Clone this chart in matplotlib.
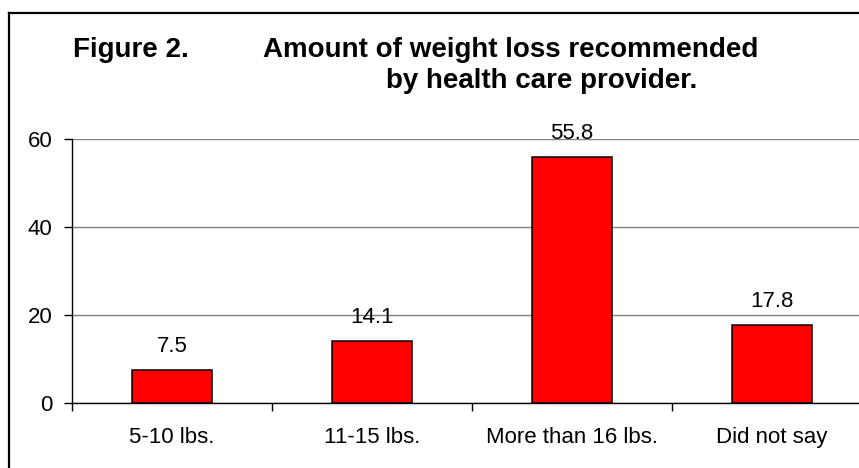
import matplotlib
matplotlib.use("Agg")
import matplotlib.pyplot as plt
from matplotlib.lines import Line2D

categories = ["5-10 lbs.", "11-15 lbs.", "More than 16 lbs.", "Did not say"]
values = [7.5, 14.1, 55.8, 17.8]
yticks = [0, 20, 40, 60]

W, H = 859, 468
plt.rcParams['font.family'] = ['Liberation Sans', 'DejaVu Sans']
fig = plt.figure(figsize=(W / 100, H / 100), dpi=100)

def fx(px):
    return px / W

def fy(py):
    return 1 - py / H

# axes: left x=72, right x=872, top y=139, bottom y=403
ax = fig.add_axes([fx(72), fy(403), fx(872) - fx(72), fy(139) - fy(403)])
x = list(range(len(categories)))
ax.bar(x, values, width=0.4, color="#FF0000", edgecolor="black", linewidth=1.1, zorder=3)
ax.set_xlim(-0.5, len(categories) - 0.5)
ax.set_ylim(0, 60)
ax.set_yticks(yticks)
ax.set_yticklabels([str(t) for t in yticks], fontsize=16)
ax.yaxis.grid(True, color="#808080", linewidth=1.0, zorder=0)
ax.set_axisbelow(True)

# major ticks at category boundaries, labels at centers
ax.set_xticks([i - 0.5 for i in range(len(categories) + 1)])
ax.set_xticklabels([])
ax.set_xticks(x, minor=True)
ax.set_xticklabels(categories, minor=True, fontsize=16)
ax.tick_params(axis="x", which="major", direction="out", length=6, width=1, color="black")
ax.tick_params(axis="x", which="minor", length=0, pad=17)
ax.tick_params(axis="y", direction="out", length=6, width=1, pad=8)

for s in ["top", "right"]:
    ax.spines[s].set_visible(False)
for s in ["left", "bottom"]:
    ax.spines[s].set_color("black")
    ax.spines[s].set_linewidth(1.0)
    ax.spines[s].set_zorder(4)

for xi, v in zip(x, values):
    ax.annotate(f"{v}", (xi, v), xytext=(0, 13), textcoords="offset points",
                ha="center", va="baseline", fontsize=16)

# title
fig.text(fx(73), fy(57), "Figure 2.", fontsize=20, fontweight="bold", ha="left", va="baseline")
fig.text(fx(263), fy(57), "Amount of weight loss recommended", fontsize=20,
         fontweight="bold", ha="left", va="baseline")
fig.text(fx(697), fy(88), "by health care provider.", fontsize=20,
         fontweight="bold", ha="right", va="baseline")

# figure border (cropped on right/bottom)
fig.add_artist(Line2D([fx(9), fx(9)], [fy(13), fy(480)], color="black", linewidth=1.6))
fig.add_artist(Line2D([fx(9), fx(880)], [fy(13), fy(13)], color="black", linewidth=1.6))

fig.savefig("out.png", dpi=100)
